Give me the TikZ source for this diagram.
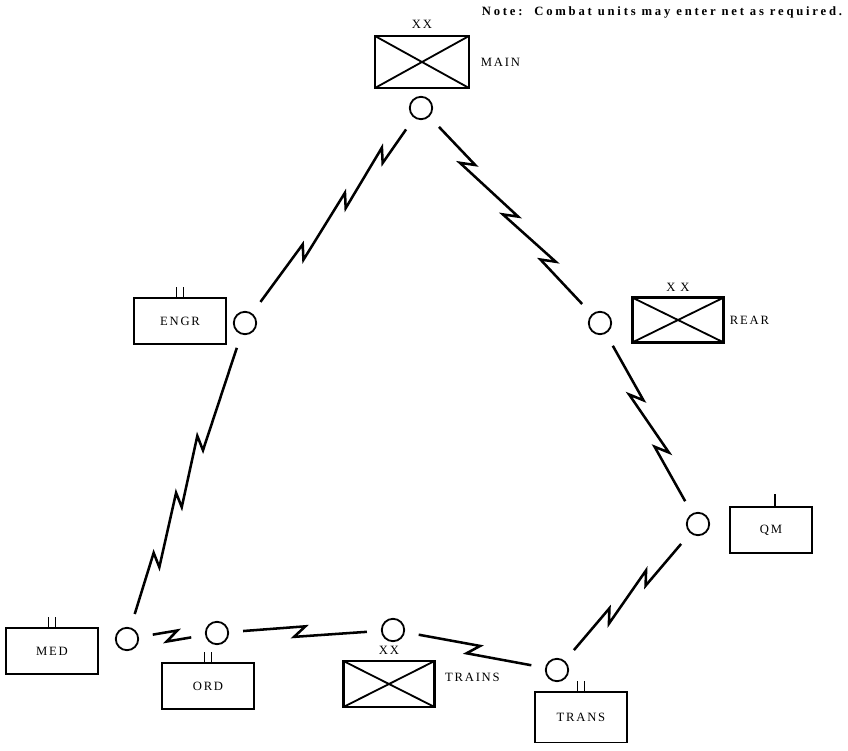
\documentclass[tikz,border=0pt]{standalone}
\usepackage{fontspec}
\setmainfont{Liberation Serif}[LetterSpace=14]
\usetikzlibrary{calc,positioning}
\tikzset{
  stn/.style={circle,draw,line width=1.3pt,minimum size=0.56cm,inner sep=0pt},
  unit/.style={draw,line width=1.3pt,minimum width=2.28cm,minimum height=1.15cm,inner sep=0pt},
  hq/.style={unit,line width=1.9pt,path picture={\draw[line width=1.3pt] (path picture bounding box.north west) -- (path picture bounding box.south east) (path picture bounding box.south west) -- (path picture bounding box.north east);}},
  link/.style={line width=1.8pt,shorten <=0.35cm,shorten >=0.35cm},
}
% radio link with zigs at the given fractions
\newcommand{\radiolink}[3]{\gdef\zpath{}\foreach \t [count=\i] in {#3}{\coordinate (#1-#2-a\i) at ($(#1.center)!\t!(#2.center)!5.5pt!42:(#2.center)$);\coordinate (#1-#2-b\i) at ($(#1.center)!\t!(#2.center)!5.5pt!-138:(#2.center)$);\xdef\zpath{\zpath -- (#1-#2-a\i) -- (#1-#2-b\i)}}\edef\zdraw{\noexpand\draw[link] (#1) \zpath -- (#2);}\zdraw}

\begin{document}
\begin{tikzpicture}[x=0.025cm,y=-0.025cm,font=\fontsize{9}{10}\selectfont]
\useasboundingbox (0,0) rectangle (848,750);
\node[anchor=north east,font=\fontsize{9}{10}\selectfont\bfseries\addfontfeature{LetterSpace=22}] (note) at (847,2) {Note:\ \ Combat units may enter net as required.};
% headquarters
\node[hq,minimum width=2.35cm,minimum height=1.3cm] (main) at (422,62) {};
\node[hq,minimum height=1.12cm] (rear) at (678,320) {};
\node[hq] (trains) at (389,684) {};
\node[above=1pt of main] (mainxx) {XX};
\node[above=0pt of rear] (rearxx) {X X};
\node[above=0pt of trains] (trainsxx) {XX};
\node[right=4pt of main] (mainlbl) {MAIN};
\node[right=0pt of rear] (rearlbl) {REAR};
\node[right=3pt of trains,yshift=5pt] (trainslbl) {TRAINS};
% support units
\foreach \n/\x/\y/\txt in {engr/180/321/ENGR,med/52/651/MED,ord/208/686/ORD}{\node[unit] (\n) at (\x,\y) {\txt};}
\node[unit,minimum height=1.27cm] (trans) at (581,717) {TRANS};
\node[unit,minimum width=2.05cm] (qm) at (771,530) {QM};
\foreach \n in {engr,med,ord,trans}{\draw[line width=1.3pt] ([xshift=-2.5pt]\n.north) -- ++(0,-10) ([xshift=2.5pt]\n.north) -- ++(0,-10);}
\draw[line width=1.3pt] ([xshift=3pt]qm.north) -- ++(0,-12);
% radio stations
\foreach \n/\x/\y in {mainst/421/108,engrst/245/323,rearst/600/323,qmst/698/524,medst/127/639,ordst/217/633,trainsst/393/630,transst/557/670}{\node[stn] (\n) at (\x,\y) {};}
% net
\radiolink{mainst}{engrst}{0.22,0.43,0.67}
\radiolink{mainst}{rearst}{0.26,0.5,0.71}
\radiolink{rearst}{qmst}{0.37,0.63}
\radiolink{qmst}{transst}{0.37,0.63}
\radiolink{engrst}{medst}{0.38,0.56,0.75}
\radiolink{medst}{ordst}{0.5}
\radiolink{ordst}{trainsst}{0.47}
\radiolink{trainsst}{transst}{0.49}
\end{tikzpicture}
\end{document}
